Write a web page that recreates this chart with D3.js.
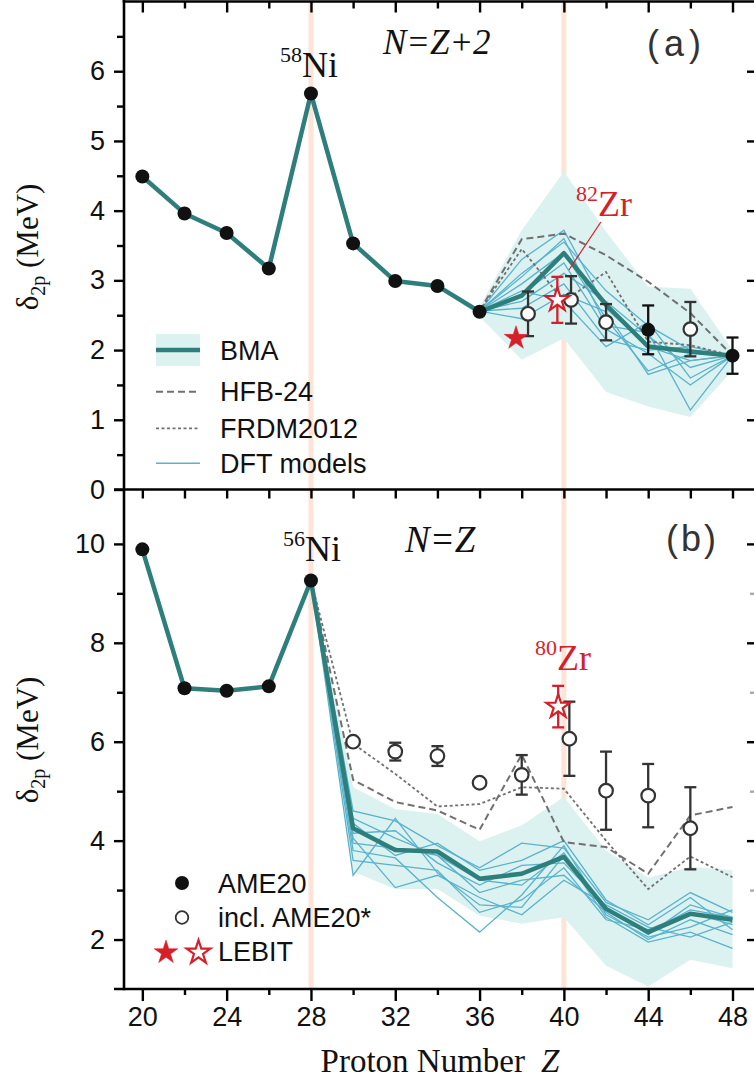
<!DOCTYPE html>
<html><head><meta charset="utf-8">
<script src="https://cdn.jsdelivr.net/npm/d3@7"></script>
<style>body{margin:0;background:#fff}</style>
</head><body>
<svg id="c" width="754" height="1078"></svg>
<script>
// ---------------- DATA ----------------
const zAll = [20,22,24,26,28,30,32,34,36,38,40,42,44,46,48];
const zTailA = [36,38,40,42,44,46,48];
const zTailB = [28,30,32,34,36,38,40,42,44,46,48];
const xMajor = [20,24,28,32,36,40,44,48];
const xMinor = [22,26,30,34,38,42,46];
const yMajorA = [0,1,2,3,4,5,6];
const yMinorA = [0.5,1.5,2.5,3.5,4.5,5.5,6.5];
const yMajorB = [2,4,6,8,10];
const yMinorB = [3,5,7,9];

// Panel (a): N = Z + 2
const aAmeZ = [20,22,24,26,28,30,32,34,36,44,48];
const aAmeV = [4.49,3.96,3.68,3.17,5.68,3.53,2.99,2.92,2.55,2.29,1.92];
const aAmeErr = [0,0,0,0,0,0,0,0,0,0.35,0.26];
const aStarZ = [38.3,40.34,42,46];
const aStarV = [2.52,2.72,2.40,2.30];
const aStarErr = [0.32,0.34,0.26,0.39];
const aLebitZ = [37.73,39.69];
const aLebitV = [2.17,2.72];
const aLebitErr = [0,0.33];
const aLebitOpen = [false,true];
const aBma = [4.49,3.96,3.68,3.17,5.68,3.53,2.99,2.92,2.55,2.78,3.39,2.65,2.05,1.98,1.92];
const aBandHi = [2.62,3.72,4.56,3.70,2.91,2.88,2.00];
const aBandLo = [2.48,1.86,2.17,1.40,1.19,1.04,1.71];
const aHfb = [2.56,3.59,3.67,3.36,2.98,2.53,1.92];
const aFrdm = [2.56,3.45,2.70,3.12,2.12,2.07,1.92];
const aDft = [
  [2.56,3.30,3.72,2.60,2.05,1.85,1.92],
  [2.56,3.10,3.55,2.85,2.35,2.00,1.92],
  [2.56,2.95,3.40,2.45,1.70,1.95,1.92],
  [2.56,2.80,3.25,2.30,1.95,1.50,1.92],
  [2.56,2.70,3.10,2.70,2.20,1.75,1.92],
  [2.56,2.60,2.95,2.15,2.00,2.05,1.92],
  [2.56,2.45,2.80,2.55,1.65,1.85,1.92],
  [2.56,3.05,3.60,2.35,2.25,1.14,1.92],
  [2.56,2.85,2.70,2.05,2.40,1.60,1.92]
];

// Panel (b): N = Z
const bAmeZ = [20,22,24,26,28];
const bAmeV = [9.89,7.08,7.03,7.12,9.26];
const bStarZ = [30,32,34,36,38,40.26,42,44,46];
const bStarV = [6.00,5.80,5.71,5.17,5.33,6.06,5.01,4.91,4.25];
const bStarErr = [0,0.18,0.20,0,0.40,0.75,0.79,0.64,0.83];
const bLebitZ = [39.73];
const bLebitV = [6.71];
const bLebitErr = [0.42];
const bBma = [9.89,7.08,7.03,7.12,9.26,4.25,3.81,3.78,3.23,3.33,3.67,2.62,2.15,2.52,2.40];
const bBandHi = [9.26,5.08,4.64,4.54,3.99,4.31,4.88,3.80,3.25,3.47,3.40];
const bBandLo = [9.26,3.37,3.02,3.02,2.48,2.32,2.45,1.47,1.05,1.59,1.42];
const bHfb = [9.26,5.23,4.78,4.61,4.22,5.74,3.97,3.87,3.33,4.51,4.68];
const bFrdm = [9.26,5.96,5.35,4.69,4.74,5.08,5.05,4.00,3.02,3.68,3.26];
const bDft = [
  [9.26,4.60,4.40,3.90,3.45,3.95,3.85,2.75,2.40,2.95,2.55],
  [9.26,4.35,3.70,3.95,3.40,3.60,4.00,2.80,2.30,2.85,2.20],
  [9.26,4.15,4.20,3.55,3.10,3.50,3.55,2.65,2.10,2.70,2.45],
  [9.26,3.95,3.85,3.70,2.95,3.20,3.30,2.55,2.00,2.40,2.10],
  [9.26,3.80,3.65,2.85,2.15,2.90,3.90,2.50,2.05,2.25,2.60],
  [9.26,3.30,4.45,3.35,2.70,2.65,3.70,2.45,1.95,2.15,1.82],
  [9.26,3.60,3.50,3.40,2.55,2.80,3.45,2.40,2.20,2.55,2.30],
  [9.26,4.05,3.05,3.30,2.85,2.50,3.20,2.70,2.25,2.05,2.35],
  [9.26,4.45,4.05,3.70,3.20,3.10,3.75,2.60,2.15,2.60,2.45]
];
const magicZ = [28,40];

const legendA = ["BMA","HFB-24","FRDM2012","DFT models"];
const legendB = ["AME20","incl. AME20*","LEBIT"];

// ---------------- STYLE ----------------
const C = {teal:"#2e7f7b", band:"#dcf2f0", dft:"#5ab2cc", dash:"#707070", red:"#d71f2a", stripe:"#fde4d6", ink:"#111", err:"#333"};
const SANS = "'Liberation Sans', Arial, sans-serif";
const SERIF = "'Liberation Serif', 'Times New Roman', serif";

const svg = d3.select("#c");
const x = d3.scaleLinear().domain([19.13, 49.02]).range([124, 754]);
const yA = d3.scaleLinear().domain([0, 7]).range([489.5, 1.5]);
const yB = d3.scaleLinear().domain([1, 11.1]).range([989, 489.5]);

// stripes
magicZ.forEach(z => {
  svg.append("rect").attr("x", x(z) - 2.5).attr("y", 1.5).attr("width", 5).attr("height", 989 - 1.5).attr("fill", C.stripe);
});

function panel(y, zt, hi, lo, dft, hfb, frdm, bma) {
  const g = svg.append("g");
  const area = d3.area().x((d, i) => x(zt[i])).y0((d, i) => y(lo[i])).y1((d, i) => y(hi[i]));
  g.append("path").attr("d", area(hi)).attr("fill", C.band);
  const line = zs => d3.line().x((d, i) => x(zs[i])).y(d => y(d));
  dft.forEach(s => g.append("path").attr("d", line(zt)(s)).attr("fill", "none").attr("stroke", C.dft).attr("stroke-width", 1.3));
  g.append("path").attr("d", line(zt)(hfb)).attr("fill", "none").attr("stroke", C.dash).attr("stroke-width", 2).attr("stroke-dasharray", "7,4");
  g.append("path").attr("d", line(zt)(frdm)).attr("fill", "none").attr("stroke", C.dash).attr("stroke-width", 1.8).attr("stroke-dasharray", "3,2.5");
  g.append("path").attr("d", line(zAll)(bma)).attr("fill", "none").attr("stroke", C.teal).attr("stroke-width", 4.5).attr("stroke-linejoin", "round");
}
panel(yA, zTailA, aBandHi, aBandLo, aDft, aHfb, aFrdm, aBma);
panel(yB, zTailB, bBandHi, bBandLo, bDft, bHfb, bFrdm, bBma);

function errbar(y, z, v, e, col) {
  if (!e) return;
  const g = svg.append("g").attr("stroke", col).attr("stroke-width", 2.3);
  const cx = x(z);
  g.append("line").attr("x1", cx).attr("x2", cx).attr("y1", y(v - e)).attr("y2", y(v + e));
  [v - e, v + e].forEach(t => g.append("line").attr("x1", cx - 6).attr("x2", cx + 6).attr("y1", y(t)).attr("y2", y(t)));
}
const starPath = d3.symbol().type(d3.symbolStar).size(175)();
function star(cx, cy, open) {
  svg.append("path").attr("d", starPath).attr("transform", `translate(${cx},${cy})`)
    .attr("fill", open ? "#fff" : C.red).attr("stroke", C.red).attr("stroke-width", open ? 2.2 : 0.5).attr("stroke-linejoin", "miter");
}

// panel a points
aAmeZ.forEach((z, i) => errbar(yA, z, aAmeV[i], aAmeErr[i], C.ink));
aStarZ.forEach((z, i) => errbar(yA, z, aStarV[i], aStarErr[i], C.err));
aLebitZ.forEach((z, i) => errbar(yA, z, aLebitV[i], aLebitErr[i], C.red));
aAmeZ.forEach((z, i) => svg.append("circle").attr("cx", x(z)).attr("cy", yA(aAmeV[i])).attr("r", 7).attr("fill", C.ink));
aStarZ.forEach((z, i) => svg.append("circle").attr("cx", x(z)).attr("cy", yA(aStarV[i])).attr("r", 6.8).attr("fill", "#fff").attr("stroke", C.err).attr("stroke-width", 2.2));
aLebitZ.forEach((z, i) => star(x(z), yA(aLebitV[i]), aLebitOpen[i]));

// panel b points
bStarZ.forEach((z, i) => errbar(yB, z, bStarV[i], bStarErr[i], C.err));
bLebitZ.forEach((z, i) => errbar(yB, z, bLebitV[i], bLebitErr[i], C.red));
bAmeZ.forEach((z, i) => svg.append("circle").attr("cx", x(z)).attr("cy", yB(bAmeV[i])).attr("r", 7).attr("fill", C.ink));
bStarZ.forEach((z, i) => svg.append("circle").attr("cx", x(z)).attr("cy", yB(bStarV[i])).attr("r", 6.8).attr("fill", "#fff").attr("stroke", C.err).attr("stroke-width", 2.2));
bLebitZ.forEach((z, i) => star(x(z), yB(bLebitV[i]), true));

// ---------------- AXES / FRAME ----------------
const frame = svg.append("g").attr("stroke", "#000").attr("stroke-width", 2.6);
frame.append("line").attr("x1", 124).attr("x2", 124).attr("y1", 0).attr("y2", 990.3);
frame.append("line").attr("x1", 122.7).attr("x2", 754).attr("y1", 1.5).attr("y2", 1.5);
frame.append("line").attr("x1", 114).attr("x2", 754).attr("y1", 489.5).attr("y2", 489.5);
frame.append("line").attr("x1", 114).attr("x2", 754).attr("y1", 989).attr("y2", 989);

function styleAxis(g) {
  g.select(".domain").remove();
  g.selectAll(".tick line").attr("stroke", "#000").attr("stroke-width", 2.4);
  g.selectAll("text").attr("font-family", SANS).attr("font-size", 27).attr("fill", C.ink);
}
svg.append("g").attr("transform", "translate(124,0)").call(d3.axisLeft(yA).tickValues(yMajorA).tickSize(10).tickPadding(9).tickFormat(d3.format("d"))).call(styleAxis);
svg.append("g").attr("transform", "translate(124,0)").call(d3.axisLeft(yA).tickValues(yMinorA).tickSize(7).tickFormat("")).call(styleAxis);
svg.append("g").attr("transform", "translate(124,0)").call(d3.axisLeft(yB).tickValues(yMajorB).tickSize(10).tickPadding(9).tickFormat(d3.format("d"))).call(styleAxis);
svg.append("g").attr("transform", "translate(124,0)").call(d3.axisLeft(yB).tickValues(yMinorB).tickSize(7).tickFormat("")).call(styleAxis);
// right side ticks (inward)
svg.append("g").attr("transform", "translate(754,0)").call(d3.axisRight(yA).tickValues(yMajorA.filter(d => d > 0)).tickSize(-7).tickFormat("")).call(styleAxis);
svg.append("g").attr("transform", "translate(754,0)").call(d3.axisRight(yB).tickValues(yMajorB).tickSize(-7).tickFormat("")).call(styleAxis);
svg.append("g").attr("transform", "translate(754,0)").call(d3.axisRight(yB).tickValues(yMinorB).tickSize(-4).tickFormat("")).call(styleAxis)
  .selectAll(".tick line").attr("stroke", "#aaa");
// bottom x axis
svg.append("g").attr("transform", "translate(0,989)").call(d3.axisBottom(x).tickValues(xMajor).tickSize(12).tickPadding(6).tickFormat(d3.format("d"))).call(styleAxis);
svg.append("g").attr("transform", "translate(0,989)").call(d3.axisBottom(x).tickValues(xMinor).tickSize(6).tickFormat("")).call(styleAxis);
// top frame ticks inward
svg.append("g").attr("transform", "translate(0,1.5)").call(d3.axisTop(x).tickValues(xMajor).tickSize(-11).tickFormat("")).call(styleAxis);
svg.append("g").attr("transform", "translate(0,1.5)").call(d3.axisTop(x).tickValues(xMinor).tickSize(-7).tickFormat("")).call(styleAxis);
// middle border ticks (into panel b)
svg.append("g").attr("transform", "translate(0,489.5)").call(d3.axisBottom(x).tickValues(xMajor.concat(xMinor)).tickSize(9).tickFormat("")).call(styleAxis);

// ---------------- TEXT ----------------
function yLabel(cy) {
  const t = svg.append("text").attr("transform", `translate(38,${cy}) rotate(-90)`).attr("text-anchor", "middle")
    .attr("font-family", SERIF).attr("font-size", 31).attr("fill", C.ink);
  t.append("tspan").text("δ");
  t.append("tspan").attr("font-size", 20).attr("dy", 7).text("2p");
  t.append("tspan").attr("dy", -7).text(" (MeV)");
}
yLabel(247);
yLabel(740);

const xl = svg.append("text").attr("x", 440).attr("y", 1072).attr("text-anchor", "middle").attr("font-family", SERIF).attr("font-size", 33).attr("fill", C.ink);
xl.append("tspan").text("Proton Number");
xl.append("tspan").attr("dx", 16).attr("font-style", "italic").text("Z");

function nucl(cx, by, mass, el, col) {
  const t = svg.append("text").attr("x", cx).attr("y", by).attr("text-anchor", "middle").attr("font-family", SERIF).attr("fill", col).attr("font-size", 36);
  t.append("tspan").attr("font-size", 22).attr("dy", -15).text(mass);
  t.append("tspan").attr("dy", 15).text(el);
}
nucl(x(28) - 2, 77, "58", "Ni", C.ink);
nucl(x(28) + 1, 561, "56", "Ni", C.ink);
nucl(x(40) + 40, 216, "82", "Zr", C.red);
nucl(x(40) - 1, 670, "80", "Zr", C.red);
svg.append("line").attr("x1", x(40) + 37).attr("y1", 222).attr("x2", x(40) + 5).attr("y2", 270).attr("stroke", C.red).attr("stroke-width", 1.2);

svg.append("text").attr("x", 383).attr("y", 54).attr("font-family", SERIF).attr("font-style", "italic").attr("font-size", 35).attr("fill", C.ink).text("N=Z+2");
svg.append("text").attr("x", 405).attr("y", 552).attr("font-family", SERIF).attr("font-style", "italic").attr("font-size", 37).attr("fill", C.ink).text("N=Z");
svg.append("text").attr("x", 647).attr("y", 56).attr("font-family", SANS).attr("font-size", 36).attr("letter-spacing", 5).attr("fill", "#333").text("(a)");
svg.append("text").attr("x", 666).attr("y", 551).attr("font-family", SANS).attr("font-size", 36).attr("letter-spacing", 3).attr("fill", "#333").text("(b)");

// ---------------- LEGENDS ----------------
const legY = [350, 391.7, 428.3, 463.3];
svg.append("rect").attr("x", 156).attr("y", 334).attr("width", 44).attr("height", 32).attr("fill", C.band);
svg.append("line").attr("x1", 156).attr("x2", 200).attr("y1", legY[0]).attr("y2", legY[0]).attr("stroke", C.teal).attr("stroke-width", 4.5);
svg.append("line").attr("x1", 156).attr("x2", 200).attr("y1", legY[1]).attr("y2", legY[1]).attr("stroke", C.dash).attr("stroke-width", 2).attr("stroke-dasharray", "7,4");
svg.append("line").attr("x1", 156).attr("x2", 200).attr("y1", legY[2]).attr("y2", legY[2]).attr("stroke", C.dash).attr("stroke-width", 1.8).attr("stroke-dasharray", "3,2.5");
svg.append("line").attr("x1", 156).attr("x2", 200).attr("y1", legY[3]).attr("y2", legY[3]).attr("stroke", C.dft).attr("stroke-width", 1.6);
legendA.forEach((s, i) => svg.append("text").attr("x", 220).attr("y", legY[i] + 9.5).attr("font-family", SANS).attr("font-size", 27).attr("fill", C.ink).text(s));

const legBY = [883, 917.5, 951.5];
svg.append("circle").attr("cx", 182).attr("cy", legBY[0]).attr("r", 7).attr("fill", C.ink);
svg.append("circle").attr("cx", 182).attr("cy", legBY[1]).attr("r", 6.3).attr("fill", "#fff").attr("stroke", C.err).attr("stroke-width", 1.8);
star(166, legBY[2] + 1, false);
star(198.5, legBY[2] + 1, true);
legendB.forEach((s, i) => svg.append("text").attr("x", 218).attr("y", legBY[i] + 9.5).attr("font-family", SANS).attr("font-size", 27).attr("fill", C.ink).text(s));
</script>
</body></html>
